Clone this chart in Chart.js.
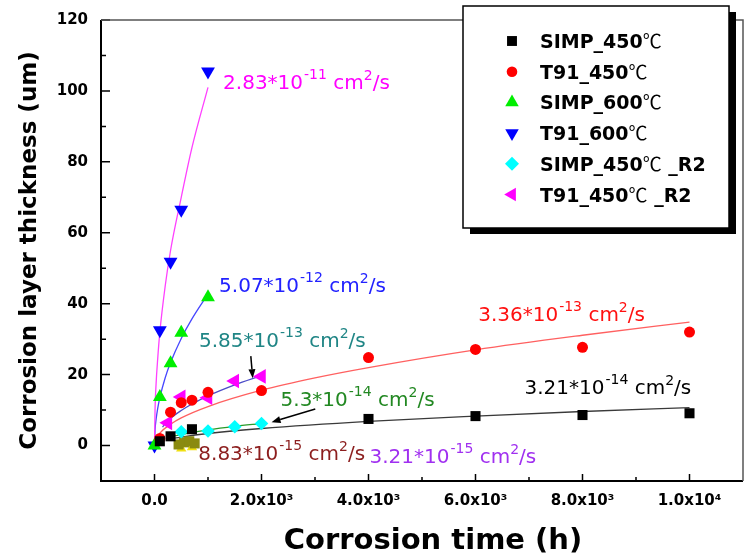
<!DOCTYPE html>
<html>
<head>
<meta charset="utf-8">
<script src="https://cdn.jsdelivr.net/npm/chart.js@4/dist/chart.umd.min.js"></script>
<style>
  html, body { margin: 0; padding: 0; background: #fff; }
  canvas { display: block; }
</style>
</head>
<body>
<canvas id="chart" width="746" height="557"></canvas>
<script>
// Corrosion layer thickness (um) against exposure time (h)
const simp450Time = [100, 300, 700, 4000, 6000, 8000, 10000];
const simp450Thk  = [1.2, 2.6, 4.6, 7.5, 8.3, 8.6, 9.1];
const t91_450Time = [100, 300, 500, 700, 1000, 2000, 4000, 6000, 8000, 10000];
const t91_450Thk  = [2.0, 9.4, 12.1, 12.8, 15.0, 15.5, 24.8, 27.1, 27.7, 32.0];
const simp600Time = [0, 100, 300, 500, 1000];
const simp600Thk  = [0, 13.7, 23.2, 31.8, 41.8];
const t91_600Time = [0, 100, 300, 500, 1000];
const t91_600Thk  = [0, 32.5, 51.8, 66.5, 105.5];
const simp450R2Time = [500, 1000, 1500, 2000];
const simp450R2Thk  = [3.9, 4.1, 5.3, 6.2];
const t91_450R2Time = [250, 500, 1000, 1500, 2000];
const t91_450R2Thk  = [6.4, 13.7, 13.5, 18.2, 19.5];
// short low-temperature runs (not listed in the key)
const lowRunATime = [450, 550, 650, 750];
const lowRunAThk  = [0.3, 0.9, 1.2, 0.6];
const lowRunBTime = [500, 700];
const lowRunBThk  = [-0.8, -0.5];

// parabolic-growth fit curves
const fitT91_600Time = [0, 10, 30, 60, 100, 200, 300, 500, 700, 1000];
const fitT91_600Thk  = [0, 10, 17.5, 24.5, 32, 45, 55, 70, 84, 101];
const fitSimp600Time = [0, 10, 30, 60, 100, 200, 300, 500, 700, 1000];
const fitSimp600Thk  = [0, 4.3, 7.4, 10.5, 13.5, 19.1, 23.4, 30.2, 35.7, 42.7];
const fitT91_450Time = [0, 25, 100, 300, 500, 1000, 2000, 3000, 4000, 6000, 8000, 10000];
const fitT91_450Thk  = [0, 1.7, 3.5, 6.0, 7.8, 11.0, 15.6, 19.1, 22.0, 27.0, 31.1, 34.8];
const fitT91_450R2Time = [150, 250, 500, 750, 1000, 1500, 2000];
const fitT91_450R2Thk  = [5.2, 7.0, 9.9, 12.1, 14.0, 17.1, 19.7];
const fitSimp450R2Time = [350, 500, 1000, 1500, 2000];
const fitSimp450R2Thk  = [2.6, 3.1, 4.4, 5.4, 6.2];
const fitSimp450Time = [300, 500, 1000, 2000, 4000, 6000, 8000, 10000];
const fitSimp450Thk  = [1.9, 2.4, 3.4, 4.8, 6.8, 8.3, 9.6, 10.7];
const fitLowTime = [550, 720];
const fitLowThk  = [1.5, 1.6];

// diffusion coefficients of the fits (x 10^exp cm^2/s)
const coefMantissa = ['2.83', '5.07', '5.85', '3.36', '3.21', '5.3', '8.83', '3.21'];
const coefExponent = ['-11', '-12', '-13', '-13', '-14', '-14', '-15', '-15'];

// axis ticks and titles
const xTickValues = [0, 2000, 4000, 6000, 8000, 10000];
const xTickLabels = ['0.0', '2.0x10³', '4.0x10³', '6.0x10³', '8.0x10³', '1.0x10⁴'];
const yTickValues = [0, 20, 40, 60, 80, 100, 120];
const yTickLabels = ['0', '20', '40', '60', '80', '100', '120'];
const xTitle = 'Corrosion time (h)';
const yTitle = 'Corrosion layer thickness (um)';

const pairs = (xs, ys) => xs.map((x, i) => ({ x, y: ys[i] }));

// placement of the coefficient notes, in data units (h, um)
const notePlacement = [
  { t: 1282, v: 100.5, color: '#ff00ff' },
  { t: 1207, v: 43.3,  color: '#2222ff' },
  { t: 832,  v: 27.8,  color: '#1f8585' },
  { t: 6050, v: 35.2,  color: '#ff1010' },
  { t: 6916, v: 14.4,  color: '#000000' },
  { t: 2356, v: 11.1,  color: '#228822' },
  { t: 819,  v: -4.1,  color: '#8c1e1e' },
  { t: 4019, v: -5.0,  color: '#a030f0' }
];
const arrowPlacement = [
  { from: [1800, 25.2], to: [1836, 19.0] },
  { from: [3005, 10.3], to: [2188, 6.6] }
];

function markerSet(label, xs, ys, color, style, radius, rotation, inKey) {
  return {
    type: 'scatter', label, data: pairs(xs, ys), inKey,
    backgroundColor: color, borderColor: color, borderWidth: 0,
    pointStyle: style, pointRadius: radius, pointRotation: rotation || 0,
    showLine: false, order: 1
  };
}
function fitSet(xs, ys, color) {
  return {
    type: 'line', label: '', data: pairs(xs, ys), inKey: false,
    borderColor: color, borderWidth: 1.3, pointRadius: 0, fill: false,
    cubicInterpolationMode: 'monotone', order: 2
  };
}

const datasets = [
  markerSet('SIMP_450℃', simp450Time, simp450Thk, '#000000', 'rect', 7.1, 0, true),
  markerSet('T91_450℃', t91_450Time, t91_450Thk, '#ff0000', 'circle', 5.5, 0, true),
  markerSet('SIMP_600℃', simp600Time, simp600Thk, '#00ee00', 'triangle', 8, 0, true),
  markerSet('T91_600℃', t91_600Time, t91_600Thk, '#0000ff', 'triangle', 8, 180, true),
  markerSet('SIMP_450℃ _R2', simp450R2Time, simp450R2Thk, '#00ffff', 'rectRot', 6.8, 0, true),
  markerSet('T91_450℃ _R2', t91_450R2Time, t91_450R2Thk, '#ff00ff', 'triangle', 8.5, -90, true),
  markerSet('', lowRunATime, lowRunAThk, '#8a8a10', 'rect', 7.1, 0, false),
  markerSet('', lowRunBTime, lowRunBThk, '#f0e010', 'triangle', 6, 0, false),
  fitSet(fitT91_600Time, fitT91_600Thk, '#ff40ff'),
  fitSet(fitSimp600Time, fitSimp600Thk, '#4646ff'),
  fitSet(fitT91_450Time, fitT91_450Thk, '#ff6060'),
  fitSet(fitT91_450R2Time, fitT91_450R2Thk, '#4c4cc8'),
  fitSet(fitSimp450R2Time, fitSimp450R2Thk, '#2a9a2a'),
  fitSet(fitSimp450Time, fitSimp450Thk, '#3a3a3a'),
  fitSet(fitLowTime, fitLowThk, '#a040ff')
];

function drawMarker(ctx, style, rotDeg, x, y, r, color) {
  ctx.save();
  ctx.translate(x, y);
  ctx.rotate(rotDeg * Math.PI / 180);
  ctx.fillStyle = color;
  ctx.beginPath();
  if (style === 'rect') {
    const s = r * Math.SQRT1_2;
    ctx.rect(-s, -s, 2 * s, 2 * s);
  } else if (style === 'circle') {
    ctx.arc(0, 0, r, 0, Math.PI * 2);
  } else if (style === 'triangle') {
    ctx.moveTo(0, -r);
    ctx.lineTo(r * 0.866, r * 0.5);
    ctx.lineTo(-r * 0.866, r * 0.5);
    ctx.closePath();
  } else if (style === 'rectRot') {
    ctx.moveTo(0, -r); ctx.lineTo(r, 0); ctx.lineTo(0, r); ctx.lineTo(-r, 0);
    ctx.closePath();
  }
  ctx.fill();
  ctx.restore();
}

function drawKeyText(ctx, label, x, y) {
  const segs = label.split('℃');
  ctx.fillStyle = '#000';
  ctx.textAlign = 'left';
  ctx.textBaseline = 'alphabetic';
  segs.forEach((s, i) => {
    ctx.font = 'bold 19px "DejaVu Sans"';
    ctx.fillText(s, x, y);
    x += ctx.measureText(s).width;
    if (i < segs.length - 1) {
      ctx.font = '19px "Noto Sans CJK SC"';
      ctx.fillText('℃', x, y);
      x += ctx.measureText('℃').width;
    }
  });
}

function drawCoef(ctx, x, y, mant, exp, color) {
  ctx.fillStyle = color;
  ctx.textAlign = 'left';
  ctx.textBaseline = 'alphabetic';
  const big = '20px "DejaVu Sans"', small = '14px "DejaVu Sans"';
  const parts = [[mant + '*10', big, 0, 1], [exp, small, -10, 0], [' cm', big, 0, 0], ['2', small, -9, 0], ['/s', big, 0, 0]];
  for (const [s, f, dy, gap] of parts) {
    ctx.font = f;
    ctx.fillText(s, x, y + dy);
    x += ctx.measureText(s).width + gap;
  }
}

const framePlugin = {
  id: 'frameAndNotes',
  afterDatasetsDraw(chart) {
    const { ctx, chartArea: a, scales: { x: xs, y: ys } } = chart;
    ctx.save();
    // inward tick marks
    ctx.strokeStyle = '#000';
    ctx.lineWidth = 1.5;
    ctx.beginPath();
    for (let i = 0; i < yTickValues.length; i++) {
      const py = ys.getPixelForValue(yTickValues[i]);
      ctx.moveTo(a.left, py); ctx.lineTo(a.left + 9, py);
      const mid = yTickValues[i] - (yTickValues[1] - yTickValues[0]) / 2;
      if (mid > ys.min) {
        const pm = ys.getPixelForValue(mid);
        ctx.moveTo(a.left, pm); ctx.lineTo(a.left + 5, pm);
      }
    }
    for (let i = 0; i < xTickValues.length; i++) {
      const px = xs.getPixelForValue(xTickValues[i]);
      ctx.moveTo(px, a.bottom); ctx.lineTo(px, a.bottom - 7);
      const mid = xTickValues[i] + (xTickValues[1] - xTickValues[0]) / 2;
      if (mid < xs.max) {
        const pm = xs.getPixelForValue(mid);
        ctx.moveTo(pm, a.bottom); ctx.lineTo(pm, a.bottom - 4);
      }
    }
    ctx.stroke();
    // frame
    ctx.lineWidth = 2;
    ctx.strokeStyle = '#000';
    ctx.beginPath();
    ctx.moveTo(a.left, a.top); ctx.lineTo(a.left, a.bottom); ctx.lineTo(a.right, a.bottom);
    ctx.stroke();
    ctx.strokeStyle = '#555';
    ctx.lineWidth = 1.5;
    ctx.beginPath();
    ctx.moveTo(a.left, a.top); ctx.lineTo(a.right, a.top); ctx.lineTo(a.right, a.bottom);
    ctx.stroke();

    // horizontal axis title
    ctx.fillStyle = '#000';
    ctx.font = 'bold 29px "DejaVu Sans"';
    ctx.textAlign = 'center';
    ctx.textBaseline = 'alphabetic';
    ctx.fillText(xTitle, 433, 549);

    // coefficient notes
    notePlacement.forEach((p, i) => {
      drawCoef(ctx, xs.getPixelForValue(p.t), ys.getPixelForValue(p.v), coefMantissa[i], coefExponent[i], p.color);
    });
    // arrows
    ctx.strokeStyle = '#000';
    ctx.fillStyle = '#000';
    ctx.lineWidth = 1.5;
    arrowPlacement.forEach(ar => {
      const x1 = xs.getPixelForValue(ar.from[0]), y1 = ys.getPixelForValue(ar.from[1]);
      const x2 = xs.getPixelForValue(ar.to[0]), y2 = ys.getPixelForValue(ar.to[1]);
      const ang = Math.atan2(y2 - y1, x2 - x1);
      const hl = 9, hw = 3.5;
      const bx = x2 - hl * Math.cos(ang), by = y2 - hl * Math.sin(ang);
      ctx.beginPath(); ctx.moveTo(x1, y1); ctx.lineTo(bx, by); ctx.stroke();
      ctx.beginPath();
      ctx.moveTo(x2, y2);
      ctx.lineTo(bx + hw * Math.sin(ang), by - hw * Math.cos(ang));
      ctx.lineTo(bx - hw * Math.sin(ang), by + hw * Math.cos(ang));
      ctx.closePath(); ctx.fill();
    });

    // key box with drop shadow
    const box = { x: 463, y: 6, w: 266, h: 222 };
    ctx.fillStyle = '#000';
    ctx.fillRect(box.x + 7, box.y + 6, box.w, box.h);
    ctx.fillStyle = '#fff';
    ctx.fillRect(box.x, box.y, box.w, box.h);
    ctx.lineWidth = 1.5;
    ctx.strokeStyle = '#000';
    ctx.strokeRect(box.x, box.y, box.w, box.h);
    const keyItems = chart.data.datasets.filter(d => d.inKey);
    keyItems.forEach((d, i) => {
      const cy = 41 + i * 30.7;
      const r = d.pointStyle === 'circle' ? 5.3 : (d.pointStyle === 'triangle' ? 7.8 : 7);
      drawMarker(ctx, d.pointStyle, d.pointRotation, 512, cy, r, d.backgroundColor);
      drawKeyText(ctx, d.label, 540, cy + 7);
    });
    ctx.restore();
  }
};

const tickFont = { family: '"DejaVu Sans"', weight: 'bold', size: 15 };

new Chart(document.getElementById('chart'), {
  type: 'scatter',
  data: { datasets },
  plugins: [framePlugin],
  options: {
    responsive: false,
    animation: false,
    events: [],
    layout: { autoPadding: false, padding: { left: 0, right: 3, top: 20, bottom: 0 } },
    plugins: { legend: { display: false }, tooltip: { enabled: false } },
    scales: {
      x: {
        type: 'linear', min: -1000, max: 11000,
        grid: { display: false, drawOnChartArea: false, drawTicks: false },
        border: { display: false },
        ticks: {
          stepSize: 1000, autoSkip: false, maxRotation: 0, minRotation: 0,
          color: '#000', font: tickFont, padding: 11,
          callback: v => { const i = xTickValues.indexOf(v); return i >= 0 ? xTickLabels[i] : ''; }
        },
        title: { display: false },
        afterFit: s => { s.height = 76; s.paddingLeft = 0; s.paddingRight = 0; }
      },
      y: {
        type: 'linear', min: -10, max: 120,
        grid: { display: false, drawOnChartArea: false, drawTicks: false },
        border: { display: false },
        ticks: {
          stepSize: 10, autoSkip: false, color: '#000', font: tickFont, padding: 13,
          callback: v => { const i = yTickValues.indexOf(v); return i >= 0 ? yTickLabels[i] : ''; }
        },
        title: {
          display: true, text: yTitle, color: '#000',
          font: { family: '"DejaVu Sans"', weight: 'bold', size: 23 },
          padding: { top: 16, bottom: 0 }
        },
        afterFit: s => { s.width = 101; s.paddingTop = 0; s.paddingBottom = 0; }
      }
    }
  }
});
</script>
</body>
</html>
